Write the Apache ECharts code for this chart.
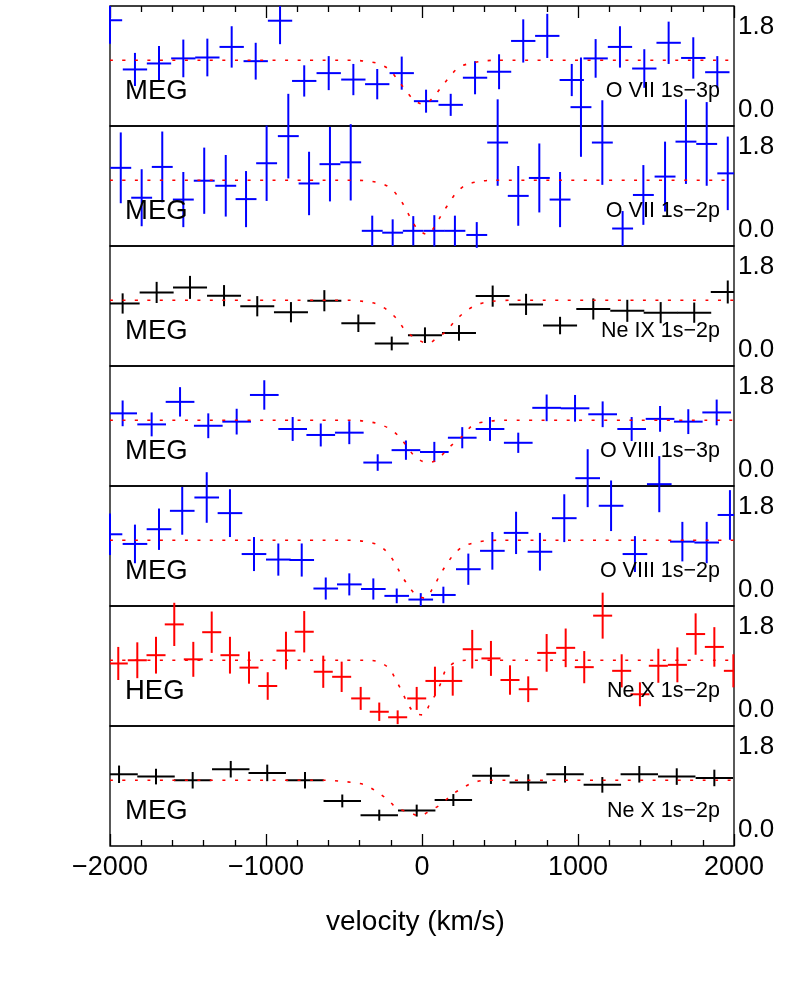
<!DOCTYPE html>
<html>
<head>
<meta charset="utf-8">
<script src="https://cdn.jsdelivr.net/npm/echarts@6/dist/echarts.min.js"></script>
<style>
  html, body { margin: 0; padding: 0; background: #fff; }
  #chart { width: 789px; height: 986px; }
</style>
</head>
<body>
<div id="chart"></div>
<script>
// panels top to bottom
const lineNames = ['O VII 1s\u22123p', 'O VII 1s\u22122p', 'Ne IX 1s\u22122p', 'O VIII 1s\u22123p',
  'O VIII 1s\u22122p', 'Ne X 1s\u22122p', 'Ne X 1s\u22122p']
const instruments = ['MEG', 'MEG', 'MEG', 'MEG', 'MEG', 'HEG', 'MEG']
const colors = ['#0000ff', '#0000ff', '#000000', '#0000ff', '#0000ff', '#ff0000', '#000000']
// half bin width in km/s
const binHalf = [78, 67, 109, 92, 79, 61, 120]

// [velocity, normalised flux, error]
const o7_3p = [[-2000, 1.94, 0.51], [-1840, 0.87, 0.36], [-1686, 1.00, 0.38], [-1530, 1.11, 0.41],
  [-1376, 1.13, 0.41], [-1220, 1.36, 0.45], [-1066, 1.05, 0.40], [-910, 1.93, 0.51], [-755, 0.62, 0.34],
  [-598, 0.79, 0.37], [-440, 0.65, 0.34], [-287, 0.55, 0.33], [-130, 0.79, 0.36], [26, 0.18, 0.25],
  [184, 0.10, 0.24], [340, 0.69, 0.36], [494, 0.82, 0.38], [649, 1.49, 0.47], [803, 1.60, 0.48],
  [960, 0.64, 0.35], [1113, 1.11, 0.42], [1269, 1.36, 0.45], [1425, 0.89, 0.42], [1581, 1.45, 0.46],
  [1739, 1.12, 0.45], [1893, 0.81, 0.35]]
const o7_2p = [[-1931, 1.34, 0.77], [-1797, 0.69, 0.62], [-1665, 1.36, 0.77], [-1530, 0.65, 0.60],
  [-1396, 1.06, 0.72], [-1258, 0.95, 0.67], [-1128, 0.66, 0.61], [-996, 1.44, 0.82], [-857, 2.03, 0.92],
  [-724, 1.00, 0.69], [-590, 1.42, 0.81], [-457, 1.46, 0.83], [-319, -0.03, 0.33], [-188, -0.07, 0.29],
  [-56, -0.03, 0.32], [79, -0.03, 0.34], [211, -0.03, 0.33], [351, -0.12, 0.28], [485, 1.89, 0.94],
  [617, 0.73, 0.65], [752, 1.12, 0.75], [885, 0.65, 0.60], [1019, 2.66, 1.08], [1156, 1.89, 0.92],
  [1286, 0.02, 0.38], [1419, 0.75, 0.65], [1558, 1.15, 0.76], [1692, 1.91, 0.92], [1825, 1.86, 0.91],
  [1960, 1.22, 0.80]]
const ne9_2p = [[-1919, 1.00, 0.22], [-1701, 1.24, 0.23], [-1487, 1.35, 0.25], [-1269, 1.17, 0.23],
  [-1056, 0.94, 0.22], [-840, 0.81, 0.22], [-626, 1.06, 0.23], [-408, 0.57, 0.19], [-194, 0.13, 0.15],
  [19, 0.31, 0.17], [237, 0.36, 0.17], [453, 1.16, 0.23], [667, 0.98, 0.23], [885, 0.52, 0.19],
  [1098, 0.88, 0.23], [1316, 0.84, 0.24], [1530, 0.80, 0.23], [1745, 0.80, 0.22], [1960, 1.25, 0.25]]
const o8_3p = [[-1919, 1.22, 0.28], [-1733, 0.98, 0.26], [-1551, 1.47, 0.32], [-1370, 0.95, 0.27],
  [-1188, 1.04, 0.28], [-1011, 1.62, 0.32], [-829, 0.88, 0.26], [-649, 0.75, 0.25], [-466, 0.80, 0.25],
  [-284, 0.15, 0.18], [-103, 0.42, 0.21], [79, 0.38, 0.22], [258, 0.69, 0.23], [436, 0.88, 0.26],
  [617, 0.58, 0.22], [799, 1.34, 0.29], [981, 1.33, 0.29], [1158, 1.20, 0.28], [1344, 0.88, 0.26],
  [1526, 1.10, 0.28], [1707, 1.04, 0.27], [1889, 1.24, 0.28]]
const o8_2p = [[-2000, 1.20, 0.45], [-1840, 0.99, 0.42], [-1686, 1.31, 0.45], [-1537, 1.71, 0.52],
  [-1380, 2.00, 0.55], [-1231, 1.66, 0.52], [-1077, 0.77, 0.37], [-921, 0.65, 0.35], [-771, 0.64, 0.36],
  [-617, 0.02, 0.24], [-466, 0.11, 0.24], [-312, 0.01, 0.23], [-162, -0.14, 0.16], [-8, -0.22, 0.14],
  [137, -0.12, 0.18], [297, 0.44, 0.34], [451, 0.84, 0.41], [603, 1.23, 0.46], [756, 0.82, 0.41],
  [912, 1.55, 0.52], [1062, 2.42, 0.63], [1212, 1.82, 0.55], [1365, 0.77, 0.39], [1521, 2.29, 0.61],
  [1669, 1.04, 0.43], [1825, 1.02, 0.45], [1974, 1.62, 0.54]]
const ne10_heg = [[-1947, 1.00, 0.36], [-1825, 1.07, 0.39], [-1705, 1.18, 0.40], [-1588, 1.85, 0.47],
  [-1466, 1.09, 0.38], [-1348, 1.68, 0.45], [-1231, 1.18, 0.40], [-1109, 0.91, 0.35], [-989, 0.51, 0.30],
  [-872, 1.28, 0.41], [-755, 1.69, 0.45], [-633, 0.82, 0.35], [-515, 0.71, 0.33], [-393, 0.24, 0.25],
  [-274, -0.05, 0.20], [-156, -0.17, 0.15], [-34, 0.24, 0.25], [83, 0.62, 0.31], [197, 0.62, 0.32],
  [322, 1.31, 0.42], [442, 1.11, 0.38], [564, 0.64, 0.32], [681, 0.44, 0.28], [799, 1.23, 0.41],
  [921, 1.34, 0.42], [1040, 0.92, 0.35], [1158, 2.04, 0.50], [1280, 0.84, 0.36], [1397, 0.33, 0.26],
  [1515, 0.95, 0.37], [1637, 0.97, 0.38], [1754, 1.64, 0.45], [1874, 1.36, 0.43], [1996, 0.84, 0.36]]
const ne10_meg = [[-1942, 1.20, 0.19], [-1705, 1.15, 0.17], [-1470, 1.07, 0.18], [-1226, 1.31, 0.18],
  [-992, 1.23, 0.18], [-750, 1.07, 0.18], [-511, 0.62, 0.14], [-274, 0.31, 0.12], [-34, 0.41, 0.13],
  [201, 0.64, 0.13], [442, 1.17, 0.18], [681, 1.02, 0.18], [917, 1.20, 0.18], [1156, 0.97, 0.17],
  [1393, 1.20, 0.18], [1633, 1.15, 0.18], [1874, 1.12, 0.18]]

// model absorption profiles [velocity, flux]
const m_o7_3p = [[-2000, 1.07], [-526, 1.07], [-445, 1.07], [-365, 1.05], [-282, 1.00], [-210, 0.87],
  [-158, 0.65], [-109, 0.44], [-56, 0.22], [8, 0.11], [72, 0.26], [122, 0.48], [175, 0.70], [233, 0.91],
  [304, 1.00], [387, 1.05], [468, 1.07], [2000, 1.07]]
const m_o7_2p = [[-2000, 1.07], [-526, 1.07], [-445, 1.07], [-365, 1.06], [-282, 1.02], [-210, 0.92],
  [-151, 0.71], [-109, 0.48], [-72, 0.24], [-27, 0.00], [37, -0.11], [90, 0.12], [130, 0.35], [175, 0.58],
  [222, 0.81], [282, 0.97], [361, 1.04], [447, 1.07], [2000, 1.07]]
const m_ne9_2p = [[-2000, 1.07], [-450, 1.07], [-365, 1.04], [-290, 0.99], [-216, 0.84], [-155, 0.64],
  [-109, 0.42], [-45, 0.25], [41, 0.13], [85, 0.22], [149, 0.38], [212, 0.62], [276, 0.82], [351, 0.97],
  [436, 1.04], [583, 1.07], [2000, 1.07]]
const m_o8_3p = [[-2000, 1.07], [-450, 1.07], [-365, 1.05], [-290, 1.00], [-209, 0.89], [-145, 0.71],
  [-103, 0.53], [-45, 0.28], [30, 0.15], [94, 0.20], [168, 0.46], [254, 0.71], [328, 0.97], [414, 1.04],
  [520, 1.07], [2000, 1.07]]
const m_o8_2p = [[-2000, 1.07], [-526, 1.07], [-445, 1.07], [-365, 1.04], [-282, 0.97], [-220, 0.80],
  [-173, 0.57], [-135, 0.33], [-92, 0.10], [-38, -0.12], [19, -0.19], [73, 0.05], [111, 0.29], [154, 0.53],
  [201, 0.75], [261, 0.93], [340, 1.02], [415, 1.06], [489, 1.07], [2000, 1.07]]
const m_ne10_heg = [[-2000, 1.07], [-526, 1.07], [-365, 1.07], [-282, 1.04], [-210, 0.89], [-167, 0.64],
  [-130, 0.40], [-98, 0.17], [-51, -0.07], [8, -0.12], [51, 0.13], [94, 0.37], [126, 0.62], [154, 0.87],
  [222, 1.04], [297, 1.07], [2000, 1.07]]
const m_ne10_meg = [[-2000, 1.07], [-611, 1.07], [-526, 1.05], [-440, 1.02], [-365, 0.97], [-290, 0.82],
  [-216, 0.64], [-162, 0.46], [-88, 0.38], [-13, 0.29], [51, 0.41], [115, 0.53], [190, 0.75], [254, 0.89],
  [328, 1.02], [414, 1.07], [2000, 1.07]]

const panels = [o7_3p, o7_2p, ne9_2p, o8_3p, o8_2p, ne10_heg, ne10_meg]
const models = [m_o7_3p, m_o7_2p, m_ne9_2p, m_o8_3p, m_o8_2p, m_ne10_heg, m_ne10_meg]

const FONT = '"Liberation Sans", Arial, Helvetica, sans-serif'
const panelTop = 6
const panelH = 120

const chart = echarts.init(document.getElementById('chart'))

const grids = []
const xAxes = []
const yAxes = []
const series = []
const graphics = []

function fmtVel(v) {
  return v < 0 ? '\u2212' + Math.abs(v) : String(v)
}

panels.forEach((pts, i) => {
  const top = panelTop + i * panelH
  const first = i === 0
  const last = i === panels.length - 1
  grids.push({
    left: 110, right: 55, top: top, height: panelH,
    show: true, borderColor: '#000', borderWidth: 1.3, backgroundColor: 'transparent'
  })
  xAxes.push({
    gridIndex: i, type: 'value', min: -2000, max: 2000, interval: 1000,
    position: first ? 'top' : 'bottom',
    axisLine: { show: false, onZero: false },
    axisTick: { show: first || last, inside: true, length: 12, lineStyle: { color: '#000', width: 1.3 } },
    minorTick: { show: first || last, splitNumber: 5, length: 6, lineStyle: { color: '#000', width: 1.3 } },
    splitLine: { show: false },
    axisLabel: { show: last, margin: 8, fontSize: 27, color: '#000', fontFamily: FONT, formatter: fmtVel },
    name: last ? 'velocity (km/s)' : '',
    nameLocation: 'middle',
    nameGap: 62,
    nameTextStyle: { fontSize: 28, color: '#000', fontFamily: FONT, padding: [0, 13, 0, 0] }
  })
  yAxes.push({
    gridIndex: i, type: 'value', position: 'right',
    min: -0.36, max: 2.25, interval: 0.18,
    axisLine: { show: false },
    axisTick: { show: false },
    splitLine: { show: false },
    axisLabel: {
      margin: 4, fontSize: 26, color: '#000', fontFamily: FONT,
      showMaxLabel: false,
      formatter: v => Math.abs(v) < 1e-6 ? '0.0' : (Math.abs(v - 1.8) < 1e-6 ? '1.8' : '')
    }
  })
  series.push({
    type: 'custom', xAxisIndex: i, yAxisIndex: i, clip: false, z: 3, silent: true,
    data: pts,
    renderItem: (params, api) => {
      const v = api.value(0)
      const f = api.value(1)
      const e = api.value(2)
      const hw = binHalf[i]
      const cs = params.coordSys
      const l = api.coord([v - hw, f])
      const r = api.coord([v + hw, f])
      const u = api.coord([v, f + e])
      const d = api.coord([v, f - e])
      const x0 = Math.max(l[0], cs.x)
      const x1 = Math.min(r[0], cs.x + cs.width)
      const yTop = first ? Math.max(u[1], cs.y) : u[1]
      return {
        type: 'group',
        children: [
          { type: 'line', shape: { x1: x0, y1: l[1], x2: x1, y2: r[1] }, style: { stroke: colors[i], lineWidth: 2 } },
          { type: 'line', shape: { x1: u[0], y1: yTop, x2: d[0], y2: d[1] }, style: { stroke: colors[i], lineWidth: 2 } }
        ]
      }
    }
  })
  series.push({
    type: 'line', xAxisIndex: i, yAxisIndex: i, data: models[i],
    smooth: 0.3, symbol: 'none', silent: true, z: 4,
    lineStyle: { color: '#ff0000', width: 1.6, type: [3, 9.5] }
  })
  graphics.push({
    type: 'text', x: 125, y: top + 85, z: 10,
    style: { text: instruments[i], font: '27.5px ' + FONT, fill: '#000', verticalAlign: 'middle' }
  })
  graphics.push({
    type: 'text', x: 720, y: top + 85, z: 10,
    style: { text: lineNames[i], font: '21.5px ' + FONT, fill: '#000', align: 'right', verticalAlign: 'middle' }
  })
})

chart.setOption({
  backgroundColor: '#fff',
  animation: false,
  grid: grids,
  xAxis: xAxes,
  yAxis: yAxes,
  series: series,
  graphic: graphics
})

window.addEventListener('resize', () => chart.resize())
</script>
</body>
</html>
